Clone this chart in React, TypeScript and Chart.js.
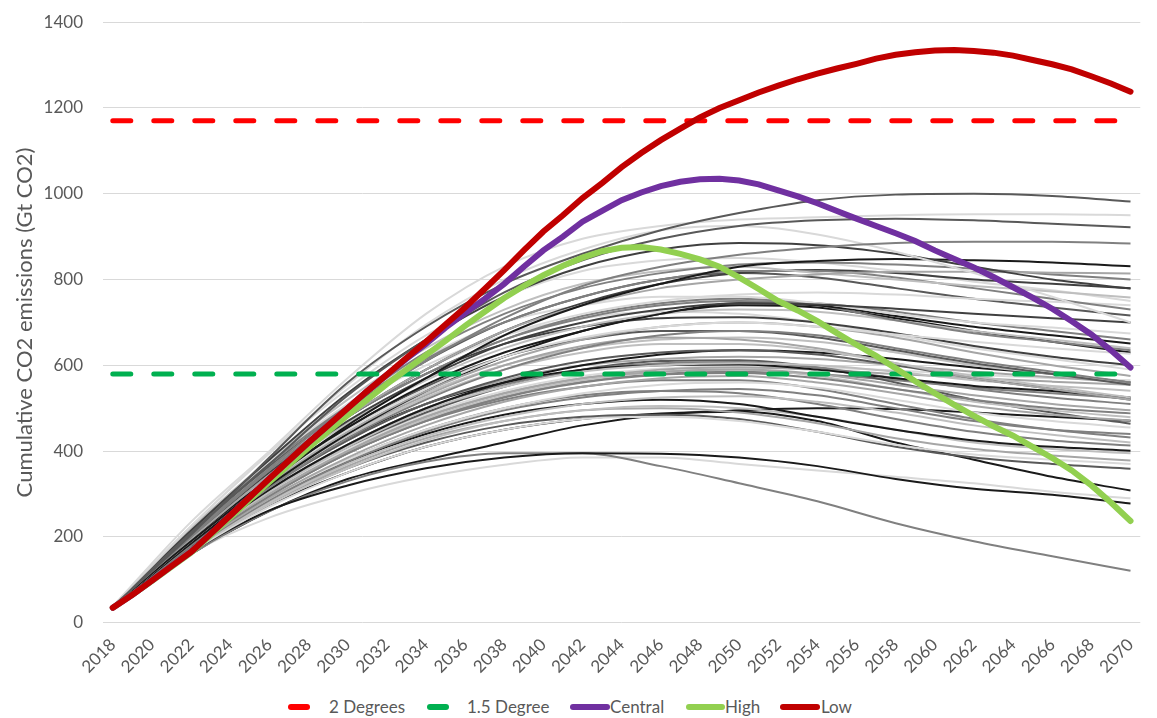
import React, { useEffect, useRef } from "react";
import { Chart, registerables } from "chart.js";
Chart.register(...registerables);

const years = [
  "2018","2019","2020","2021","2022","2023","2024","2025","2026","2027",
  "2028","2029","2030","2031","2032","2033","2034","2035","2036","2037",
  "2038","2039","2040","2041","2042","2043","2044","2045","2046","2047",
  "2048","2049","2050","2051","2052","2053","2054","2055","2056","2057",
  "2058","2059","2060","2061","2062","2063","2064","2065","2066","2067",
  "2068","2069","2070",
];

const lowValues = [
  35, 65, 98, 132, 165, 207, 250, 293, 336, 378,
  420, 460, 500, 540, 578, 617, 655, 695, 735, 778,
  822, 868, 912, 950, 990, 1025, 1062, 1095, 1125, 1152,
  1178, 1200, 1218, 1236, 1252, 1267, 1280, 1292, 1303, 1315,
  1324, 1330, 1334, 1335, 1333, 1329, 1322, 1312, 1302, 1290,
  1274, 1257, 1238,
];

const centralValues = [
  35, 65, 98, 132, 165, 207, 250, 293, 336, 378,
  420, 460, 500, 540, 578, 615, 650, 688, 722, 755,
  790, 830, 868, 900, 935, 960, 985, 1003, 1018, 1028,
  1034, 1035, 1031, 1022, 1008, 994, 978, 960, 942, 925,
  908, 890, 868, 848, 828, 806, 782, 758, 732, 703,
  672, 635, 595,
];

const highValues = [
  35, 65, 97, 130, 163, 204, 245, 287, 328, 368,
  408, 446, 484, 520, 556, 590, 624, 657, 692, 725,
  757, 785, 810, 832, 851, 866, 874, 876, 870, 860,
  847, 830, 805, 778, 750, 728, 703, 675, 648, 622,
  593, 563, 535, 508, 482, 458, 436, 410, 384, 355,
  320, 280, 237,
];

const twoDegreeValue = 1170;
const onePointFiveValue = 580;

const sampleYears = ["2018","2022","2026","2030","2034","2038","2042","2046","2050","2054","2058","2062","2066","2070"];

const grayUpper = [
  [38, 205, 385, 560, 690, 790, 860, 915, 955, 985, 998, 1000, 995, 982],
  [38, 235, 400, 570, 720, 830, 895, 925, 940, 945, 950, 952, 952, 950],
  [38, 210, 370, 530, 660, 770, 845, 895, 925, 938, 942, 938, 930, 922],
  [38, 200, 355, 495, 610, 710, 785, 830, 858, 875, 885, 888, 888, 884],
  [38, 225, 395, 555, 695, 800, 870, 915, 925, 905, 865, 815, 760, 700],
  [38, 215, 380, 535, 660, 760, 830, 870, 885, 880, 860, 830, 800, 779],
  [38, 190, 330, 460, 570, 670, 740, 790, 830, 843, 848, 845, 840, 831],
  [38, 195, 345, 480, 590, 680, 740, 780, 800, 812, 818, 818, 816, 814],
  [38, 205, 360, 505, 630, 720, 780, 815, 835, 840, 835, 825, 812, 800],
  [38, 220, 380, 520, 640, 730, 790, 820, 830, 815, 800, 785, 772, 758],
  [38, 210, 370, 505, 615, 700, 760, 800, 820, 820, 805, 780, 755, 730],
  [38, 200, 350, 480, 590, 680, 745, 790, 815, 822, 815, 800, 790, 780],
  [38, 225, 395, 545, 670, 760, 820, 845, 850, 840, 820, 795, 775, 750],
];
const grayUpperShades = ["#595959","#d9d9d9","#595959","#808080","#d9d9d9","#404040","#1a1a1a","#a6a6a6","#808080","#bfbfbf","#808080","#404040","#d9d9d9"];

const grayMiddle = [
  [38, 200, 350, 480, 590, 670, 720, 750, 765, 770, 765, 755, 748, 740],
  [38, 210, 365, 500, 610, 700, 760, 800, 815, 805, 780, 755, 735, 716],
  [38, 200, 345, 470, 570, 650, 700, 730, 745, 742, 732, 720, 710, 700],
  [38, 215, 375, 510, 620, 700, 740, 760, 760, 745, 720, 700, 688, 674],
  [38, 195, 335, 455, 555, 630, 680, 720, 745, 740, 715, 690, 670, 651],
  [38, 205, 355, 480, 580, 660, 715, 745, 755, 740, 705, 675, 655, 635],
  [38, 190, 330, 450, 545, 620, 665, 690, 700, 690, 672, 655, 640, 627],
  [38, 200, 350, 480, 580, 660, 710, 740, 750, 745, 725, 700, 680, 660],
  [38, 195, 340, 465, 565, 640, 690, 720, 730, 725, 705, 680, 660, 640],
  [38, 205, 355, 480, 580, 650, 690, 710, 712, 700, 675, 645, 620, 600],
  [38, 190, 330, 445, 540, 610, 660, 690, 700, 690, 665, 630, 600, 575],
  [38, 185, 320, 440, 540, 620, 680, 720, 740, 735, 710, 680, 655, 630],
  [38, 210, 370, 500, 600, 670, 710, 725, 720, 700, 670, 640, 615, 590],
  [38, 180, 315, 430, 520, 590, 640, 670, 680, 670, 640, 610, 585, 560],
  [38, 195, 335, 455, 550, 620, 660, 680, 680, 665, 635, 605, 580, 555],
  [38, 185, 320, 435, 525, 590, 630, 650, 650, 635, 605, 575, 550, 525],
  [38, 190, 325, 440, 530, 600, 645, 665, 660, 640, 605, 570, 545, 520],
  [38, 192, 330, 445, 535, 600, 640, 660, 665, 655, 630, 600, 580, 560],
  [38, 188, 318, 425, 510, 570, 610, 630, 635, 625, 600, 570, 545, 520],
  [38, 180, 310, 415, 500, 560, 600, 625, 635, 630, 615, 595, 580, 560],
];
const grayMiddleShades = ["#d9d9d9","#595959","#404040","#d9d9d9","#1a1a1a","#808080","#d9d9d9","#808080","#bfbfbf","#404040","#a6a6a6","#1a1a1a","#d9d9d9","#808080","#595959","#bfbfbf","#a6a6a6","#bfbfbf","#595959","#1a1a1a"];

const grayLower = [
  [38, 185, 315, 425, 510, 565, 600, 615, 620, 615, 600, 585, 572, 560],
  [38, 180, 305, 410, 495, 550, 585, 600, 605, 600, 585, 565, 552, 541],
  [38, 190, 320, 430, 510, 560, 590, 600, 602, 590, 570, 552, 540, 525],
  [38, 185, 310, 415, 500, 555, 590, 605, 608, 595, 570, 545, 525, 510],
  [38, 180, 300, 400, 480, 535, 570, 585, 590, 580, 555, 530, 510, 495],
  [38, 175, 295, 395, 470, 525, 560, 578, 582, 570, 545, 520, 500, 488],
  [38, 178, 298, 395, 475, 530, 565, 585, 590, 575, 545, 515, 495, 479],
  [38, 172, 290, 385, 460, 515, 550, 570, 575, 560, 535, 505, 485, 471],
  [38, 185, 310, 410, 490, 550, 590, 610, 612, 595, 560, 520, 490, 464],
  [38, 175, 290, 380, 450, 500, 535, 555, 560, 548, 520, 490, 470, 455],
  [38, 170, 285, 375, 445, 495, 525, 540, 545, 530, 500, 470, 450, 440],
  [38, 180, 300, 395, 470, 520, 550, 565, 565, 545, 510, 475, 450, 432],
  [38, 170, 280, 370, 435, 480, 510, 525, 528, 515, 490, 460, 438, 420],
  [38, 175, 290, 380, 450, 500, 530, 540, 535, 510, 475, 445, 425, 413],
  [38, 175, 290, 375, 440, 485, 510, 520, 510, 480, 450, 425, 410, 401],
  [38, 168, 275, 360, 425, 470, 495, 505, 500, 480, 450, 420, 405, 395],
  [38, 172, 280, 365, 430, 470, 495, 500, 490, 465, 430, 405, 390, 378],
  [38, 165, 270, 350, 410, 450, 475, 480, 470, 445, 415, 392, 380, 370],
  [38, 170, 278, 360, 420, 460, 480, 485, 475, 445, 410, 385, 370, 359],
  [38, 170, 275, 350, 410, 450, 475, 488, 492, 470, 420, 380, 340, 308],
  [37, 165, 262, 320, 360, 385, 395, 394, 385, 365, 335, 312, 298, 278],
  [37, 160, 260, 330, 375, 395, 395, 365, 325, 283, 232, 190, 155, 121],
  [37, 162, 245, 300, 340, 368, 385, 385, 370, 355, 340, 325, 305, 290],
  [38, 160, 260, 335, 380, 420, 460, 485, 495, 500, 498, 490, 480, 471],
  [38, 178, 300, 400, 480, 535, 570, 590, 595, 590, 580, 570, 562, 555],
  [38, 182, 305, 405, 485, 540, 575, 592, 598, 595, 588, 578, 570, 565],
  [38, 176, 296, 395, 472, 528, 562, 580, 585, 580, 565, 548, 535, 522],
];
const grayLowerShades = ["#a6a6a6","#bfbfbf","#1a1a1a","#808080","#a6a6a6","#808080","#bfbfbf","#a6a6a6","#595959","#d9d9d9","#808080","#808080","#bfbfbf","#808080","#1a1a1a","#bfbfbf","#a6a6a6","#d9d9d9","#595959","#1a1a1a","#1a1a1a","#808080","#d9d9d9","#1a1a1a","#a6a6a6","#d9d9d9","#808080"];

const FONT = "Lato, 'Open Sans', sans-serif";
const TEXT = "#595959";

const legendItems = [
  { label: "2 Degrees", color: "#FF0000", markLeft: 288, markWidth: 22, textLeft: 329 },
  { label: "1.5 Degree", color: "#00B050", markLeft: 427, markWidth: 22, textLeft: 467 },
  { label: "Central", color: "#7030A0", markLeft: 570, markWidth: 40, textLeft: 610 },
  { label: "High", color: "#92D050", markLeft: 686, markWidth: 39, textLeft: 725 },
  { label: "Low", color: "#C00000", markLeft: 780, markWidth: 40, textLeft: 821 },
];

export default function App() {
  const ref = useRef<HTMLCanvasElement>(null);
  useEffect(() => {
    document.body.style.margin = "0";
    const toPoints = (vals: number[]) => vals.map((v, i) => ({ x: sampleYears[i], y: v }));
    const grayGroups: [number[][], string[]][] = [
      [grayUpper, grayUpperShades],
      [grayMiddle, grayMiddleShades],
      [grayLower, grayLowerShades],
    ];
    const grayDatasets: any[] = [];
    grayGroups.forEach(([runs, shades]) => {
      runs.forEach((vals, i) => {
        grayDatasets.push({
          label: "",
          data: toPoints(vals),
          borderColor: shades[i],
          borderWidth: 2,
          pointRadius: 0,
          cubicInterpolationMode: "monotone",
          order: 10,
        });
      });
    });
    const chart = new Chart(ref.current!, {
      type: "line",
      data: {
        labels: years,
        datasets: [
          ...grayDatasets,
          {
            label: "2 Degrees",
            data: [{ x: years[0], y: twoDegreeValue }, { x: years[years.length - 1], y: twoDegreeValue }],
            borderColor: "#FF0000",
            borderWidth: 5,
            borderDash: [18, 23],
            borderCapStyle: "round",
            pointRadius: 0,
            order: 2,
          },
          {
            label: "1.5 Degree",
            data: [{ x: years[0], y: onePointFiveValue }, { x: years[years.length - 1], y: onePointFiveValue }],
            borderColor: "#00B050",
            borderWidth: 5,
            borderDash: [18, 23],
            borderCapStyle: "round",
            pointRadius: 0,
            order: 2,
          },
          {
            label: "Central",
            data: centralValues,
            borderColor: "#7030A0",
            borderWidth: 6,
            borderCapStyle: "round",
            pointRadius: 0,
            order: 1,
          },
          {
            label: "High",
            data: highValues,
            borderColor: "#92D050",
            borderWidth: 6,
            borderCapStyle: "round",
            pointRadius: 0,
            order: 1,
          },
          {
            label: "Low",
            data: lowValues,
            borderColor: "#C00000",
            borderWidth: 6,
            borderCapStyle: "round",
            pointRadius: 0,
            order: 0,
          },
        ],
      },
      options: {
        animation: false,
        responsive: true,
        maintainAspectRatio: false,
        layout: { autoPadding: false, padding: { left: 8, right: 7, top: 12, bottom: 0 } },
        plugins: { legend: { display: false }, tooltip: { enabled: false } },
        scales: {
          x: {
            type: "category",
            offset: true,
            grid: { display: false, drawTicks: false },
            border: { display: false },
            ticks: {
              autoSkip: false,
              minRotation: 45,
              maxRotation: 45,
              padding: 12,
              color: TEXT,
              font: { family: FONT, size: 17 },
              callback: function (this: any, value: any, index: number) {
                return index % 2 === 0 ? this.getLabelForValue(value) : "";
              },
            },
          },
          y: {
            min: 0,
            max: 1400,
            afterFit: (scale: any) => {
              scale.width = 95;
            },
            ticks: {
              stepSize: 200,
              padding: 20,
              color: TEXT,
              font: { family: FONT, size: 17 },
              callback: (v: any) => String(v),
            },
            grid: { color: "#d9d9d9", lineWidth: 1, drawTicks: false },
            border: { display: false },
            title: {
              display: true,
              text: "Cumulative CO2 emissions (Gt CO2)",
              color: TEXT,
              font: { family: FONT, size: 22 },
              padding: { top: 4, bottom: 4 },
            },
          },
        },
      },
    });
    return () => chart.destroy();
  }, []);

  return (
    <div style={{ position: "relative", width: 1157, height: 718, fontFamily: FONT, background: "#fff", overflow: "hidden" }}>
      <div style={{ position: "absolute", left: 0, top: -8, width: 1157, height: 697 }}>
        <canvas ref={ref} />
      </div>
      {legendItems.map((it) => (
        <React.Fragment key={it.label}>
          <div
            style={{
              position: "absolute",
              left: it.markLeft,
              top: 704,
              width: it.markWidth,
              height: 6,
              borderRadius: 3,
              background: it.color,
            }}
          />
          <div
            style={{
              position: "absolute",
              left: it.textLeft,
              top: 696,
              fontSize: 17,
              lineHeight: "22px",
              color: TEXT,
              whiteSpace: "nowrap",
            }}
          >
            {it.label}
          </div>
        </React.Fragment>
      ))}
    </div>
  );
}
